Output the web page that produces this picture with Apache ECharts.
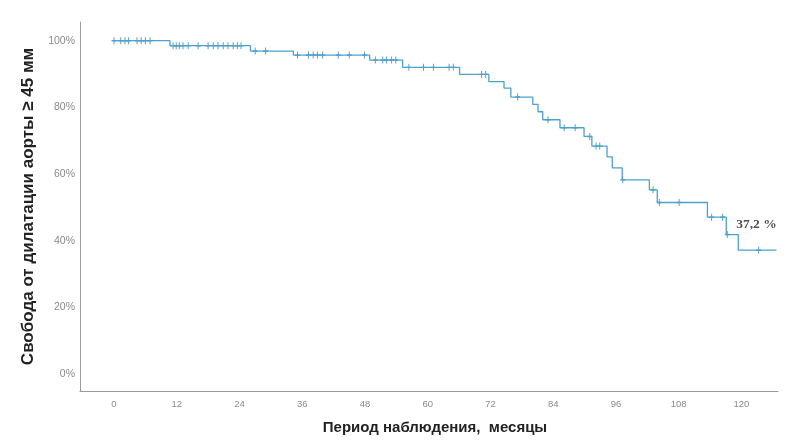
<!DOCTYPE html>
<html>
<head>
<meta charset="utf-8">
<script src="https://cdn.jsdelivr.net/npm/echarts@6/dist/echarts.min.js"></script>
<style>html,body{margin:0;padding:0;background:#fff}#c{width:800px;height:445px}</style>
</head>
<body>
<div id="c"></div>
<script>
// ---- data ----
const xTicks = [0, 12, 24, 36, 48, 60, 72, 84, 96, 108, 120];
const yTicks = [0, 20, 40, 60, 80, 100];
const xTitle = 'Период наблюдения,  месяцы';
const yTitle = 'Свобода от дилатации аорты ≥ 45 мм';
// Kaplan-Meier step: time of each drop and survival (%) after it
const eventTimes = [0, 10.7, 26.1, 34.3, 48.9, 55.2, 66.1, 71.7, 74.6, 75.9, 80.1, 81.1, 82.0, 85.3, 89.9, 91.4, 94.3, 95.3, 97.2, 102.4, 103.9, 113.5, 117.1, 119.4];
const survival   = [100, 98.5, 96.9, 95.7, 94.2, 92.0, 89.9, 87.7, 85.8, 83.1, 80.9, 78.7, 76.3, 73.9, 71.3, 68.4, 65.2, 61.9, 58.3, 55.3, 51.5, 47.1, 41.9, 37.2];
const followEnd = 126.7;
const censorTimes = [0, 1.3, 2.1, 2.8, 4.4, 5.2, 6.0, 6.9,
  11.3, 11.9, 12.5, 13.2, 14.2, 16.1, 18.0, 19.0, 19.9, 20.9, 21.8, 22.8, 23.6, 24.3,
  27.0, 29.0,
  35.1, 37.2, 38.1, 38.9, 39.9, 42.9, 45.0, 47.9,
  50.0, 51.4, 52.1, 53.1, 53.9,
  56.4, 59.2, 61.1, 64.1, 64.9,
  70.3, 71.1, 77.2, 83.0, 86.1, 88.2, 91.0, 92.2, 92.9, 97.3,
  103.1, 104.3, 108.1, 114.3, 116.4, 117.3, 123.3];
const finalLabel = survival[survival.length - 1].toFixed(1).replace('.', ',') + ' %';

// ---- build ----
function survAt(t) {
  let s = survival[0];
  for (let i = 0; i < eventTimes.length; i++) if (eventTimes[i] <= t) s = survival[i];
  return s;
}
const labelIdx = survival.length - 2;
const stepData = eventTimes.map((t, i) => [t, survival[i]]);
stepData.push([followEnd, survival[survival.length - 1]]);
const censorData = censorTimes.map(t => [t, survAt(t)]);

const axisTxt = { color: '#8a8a8a', fontFamily: 'Arial, Liberation Sans' };
const chart = echarts.init(document.getElementById('c'), null, { renderer: 'canvas' });
chart.setOption({
  animation: false,
  backgroundColor: '#fff',
  grid: { left: 80, right: 22, top: 22, bottom: 54 },
  xAxis: {
    type: 'value', min: -6.5, max: 127,
    name: xTitle, nameLocation: 'middle', nameGap: 29,
    nameTextStyle: { fontSize: 15, fontWeight: 'bold', color: '#222', fontFamily: 'Arial, Liberation Sans', padding: [0, 0, 0, 12] },
    axisLine: { onZero: false, lineStyle: { color: '#9a9a9a', width: 1 } },
    axisTick: { show: false },
    splitLine: { show: false },
    axisLabel: Object.assign({ customValues: xTicks, margin: 8, fontSize: 9.5 }, axisTxt)
  },
  yAxis: {
    type: 'value', min: -5, max: 105.6,
    name: yTitle, nameLocation: 'middle', nameGap: 39, nameRotate: 90,
    nameTextStyle: { fontSize: 17, fontWeight: 'bold', color: '#222', fontFamily: 'Arial, Liberation Sans' },
    axisLine: { show: true, onZero: false, lineStyle: { color: '#9a9a9a', width: 1 } },
    axisTick: { show: false },
    splitLine: { show: false },
    axisLabel: Object.assign({ customValues: yTicks, margin: 5, fontSize: 10.5, formatter: v => v + '%' }, axisTxt)
  },
  series: [
    {
      type: 'line', step: 'end', data: stepData, showSymbol: false, symbol: 'none',
      lineStyle: { color: '#49a3cd', width: 1.3 }
    },
    {
      type: 'scatter', data: censorData,
      symbol: 'path://M4,0H6V4H10V6H6V10H4V6H0V4H4Z', symbolSize: [5, 7],
      itemStyle: { color: '#2f88bb' }
    },
    {
      type: 'scatter', silent: true,
      data: [[eventTimes[labelIdx], survival[labelIdx]]],
      symbolSize: 0,
      label: {
        show: true, position: [10, -17],
        formatter: finalLabel,
        fontFamily: 'Liberation Serif', fontWeight: 'bold', fontSize: 13.5, color: '#222'
      }
    }
  ]
});
</script>
</body>
</html>
